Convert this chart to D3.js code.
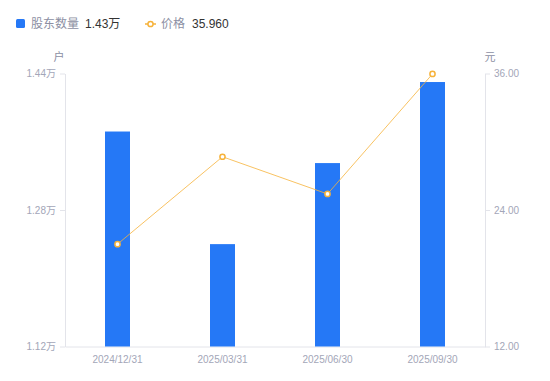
<!DOCTYPE html>
<html>
<head>
<meta charset="utf-8">
<script src="https://cdn.jsdelivr.net/npm/d3@7"></script>
<style>
  body { margin: 0; background: #fff; }
  text { font-family: "Liberation Sans", "Noto Sans CJK SC", sans-serif; }
</style>
</head>
<body>
<div id="chart"></div>
<script>
const dates = ["2024/12/31", "2025/03/31", "2025/06/30", "2025/09/30"];
const holders = [1.372, 1.24, 1.335, 1.43]; // 万户
const prices = [21.0, 28.68, 25.41, 35.96];
const leftTicks = [1.12, 1.28, 1.44];
const rightTicks = [12, 24, 36];

const WIDTH = 550, HEIGHT = 381;
const MARGIN = { TOP: 73.5, BOTTOM: 34.5, LEFT: 65, RIGHT: 65 };
const BAR_COLOR = "#2578f6", LINE_COLOR = "#f6b23a";
const AXIS_COLOR = "#e3e4ea", TICK_TEXT = "#a3a6b8";
const FONT = "'Liberation Sans', 'Noto Sans CJK SC', sans-serif";

const svg = d3.select("#chart").append("svg")
  .attr("width", WIDTH).attr("height", HEIGHT);

const x = d3.scaleBand().domain(dates)
  .range([MARGIN.LEFT, WIDTH - MARGIN.RIGHT]);
const yL = d3.scaleLinear().domain([1.12, 1.44])
  .range([HEIGHT - MARGIN.BOTTOM, MARGIN.TOP]);
const yR = d3.scaleLinear().domain([12, 36])
  .range([HEIGHT - MARGIN.BOTTOM, MARGIN.TOP]);

// axes
const leftAxis = d3.axisLeft(yL).tickValues(leftTicks)
  .tickFormat(d => d3.format(".2f")(d) + "万").tickSize(5).tickSizeOuter(0);
const gl = svg.append("g").attr("transform", `translate(${MARGIN.LEFT},0)`).call(leftAxis);

const rightAxis = d3.axisRight(yR).tickValues(rightTicks)
  .tickFormat(d3.format(".2f")).tickSize(5).tickSizeOuter(0);
const gr = svg.append("g").attr("transform", `translate(${WIDTH - MARGIN.RIGHT},0)`).call(rightAxis);

const bottomAxis = d3.axisBottom(x).tickSize(0).tickSizeOuter(0);
const gb = svg.append("g").attr("transform", `translate(0,${HEIGHT - MARGIN.BOTTOM})`).call(bottomAxis);

[gl, gr, gb].forEach(g => {
  g.select(".domain").attr("stroke", AXIS_COLOR);
  g.selectAll(".tick line").attr("stroke", AXIS_COLOR);
  g.selectAll(".tick text").attr("fill", TICK_TEXT).style("font-size", "10px")
    .style("font-family", FONT);
});
gl.selectAll(".tick text").attr("x", -9);
gr.selectAll(".tick text").attr("x", 9);
gb.selectAll(".tick text").attr("dy", "1.1em").attr("y", 5);

// unit labels
svg.append("text").attr("x", MARGIN.LEFT - 6).attr("y", 61)
  .attr("text-anchor", "middle").attr("fill", "#8c8fa3").style("font-size", "11px").text("户");
svg.append("text").attr("x", WIDTH - MARGIN.RIGHT + 5).attr("y", 61)
  .attr("text-anchor", "middle").attr("fill", "#8c8fa3").style("font-size", "11px").text("元");

// bars
const barW = 25;
svg.append("g").selectAll("rect").data(holders).join("rect")
  .attr("x", (d, i) => x(dates[i]) + x.bandwidth() / 2 - barW / 2)
  .attr("y", d => yL(d))
  .attr("width", barW)
  .attr("height", d => yL(1.12) - yL(d))
  .attr("fill", BAR_COLOR);

// price line
const line = d3.line()
  .x((d, i) => x(dates[i]) + x.bandwidth() / 2)
  .y(d => yR(d));
svg.append("path").datum(prices)
  .attr("d", line).attr("fill", "none")
  .attr("stroke", LINE_COLOR).attr("stroke-width", 0.8);
svg.append("g").selectAll("circle").data(prices).join("circle")
  .attr("cx", (d, i) => x(dates[i]) + x.bandwidth() / 2)
  .attr("cy", d => yR(d))
  .attr("r", 2.6)
  .attr("fill", "#fff")
  .attr("stroke", LINE_COLOR).attr("stroke-width", 1.5);

// legend
const lg = svg.append("g").style("font-size", "12px");
lg.append("rect").attr("x", 16).attr("y", 19).attr("width", 9).attr("height", 9)
  .attr("rx", 1.5).attr("fill", BAR_COLOR);
lg.append("text").attr("x", 31).attr("y", 28).attr("fill", "#8c8fa3").text("股东数量");
lg.append("text").attr("x", 85).attr("y", 28).attr("fill", "#333")
  .text(d3.format(".2f")(holders[holders.length - 1]) + "万");
lg.append("line").attr("x1", 145).attr("x2", 156).attr("y1", 24).attr("y2", 24)
  .attr("stroke", LINE_COLOR).attr("stroke-width", 1.5);
lg.append("circle").attr("cx", 150.5).attr("cy", 24).attr("r", 2.6)
  .attr("fill", "#fff").attr("stroke", LINE_COLOR).attr("stroke-width", 1.5);
lg.append("text").attr("x", 161).attr("y", 28).attr("fill", "#8c8fa3").text("价格");
lg.append("text").attr("x", 192).attr("y", 28).attr("fill", "#333")
  .text(d3.format(".3f")(prices[prices.length - 1]));
</script>
</body>
</html>
